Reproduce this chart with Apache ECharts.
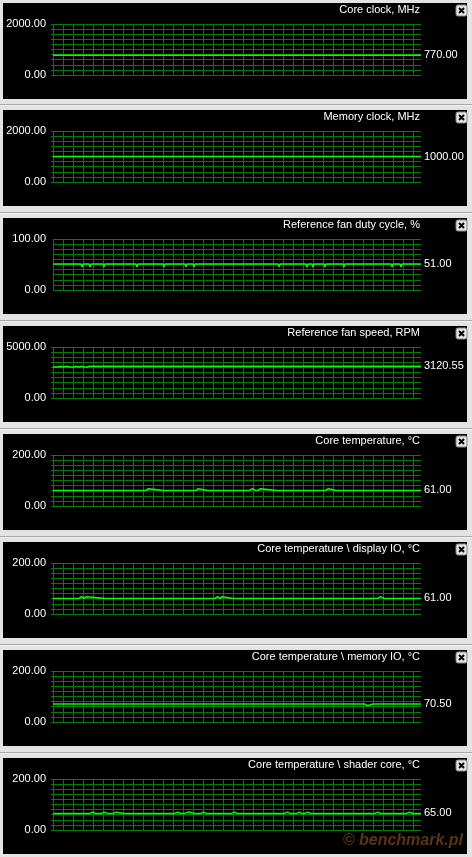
<!DOCTYPE html>
<html><head><meta charset="utf-8">
<script src="https://cdn.jsdelivr.net/npm/echarts@6/dist/echarts.min.js"></script>
<style>html,body{margin:0;padding:0;background:#e3e3e3}#c{width:472px;height:857px}</style>
</head><body><div id="c"></div>
<script>
// ---- data (x = sample index across the 368-sample window) ----
const titles = ['Core clock, MHz','Memory clock, MHz','Reference fan duty cycle, %','Reference fan speed, RPM',
  'Core temperature, °C','Core temperature \\ display IO, °C','Core temperature \\ memory IO, °C','Core temperature \\ shader core, °C'];
const yMaxima = [2000, 2000, 100, 5000, 200, 200, 200, 200];

const coreClock = [[0,770],[368,770]];
const memoryClock = [[0,1000],[368,1000]];
const fanDuty = [[0,51],[28,51],[29,45],[30,51],[36,51],[37,45],[38,51],[50,51],[51,45],[52,51],[83,51],[84,45],[85,51],
  [110,51],[111,45],[112,51],[132,51],[133,45],[134,51],[140,51],[141,45],[142,51],[225,51],[226,45],[227,51],
  [253,51],[254,45],[255,51],[259,51],[260,45],[261,51],[271,51],[272,45],[273,51],[290,51],[291,45],[292,51],
  [338,51],[339,45],[340,51],[347,51],[348,45],[349,51],[368,51]];
const fanSpeed = [[0,3040],[5,3040],[6,3110],[8,3110],[9,3040],[12,3040],[13,3110],[14,3040],[17,3040],[18,3110],
  [19,3040],[22,3110],[24,3040],[27,3040],[28,3110],[29,3040],[31,3040],[32,3110],[34,3040],[36,3040],[37,3120.55],[368,3120.55]];
const coreTemp = [[0,61],[5,61],[6,68],[7,61],[25,61],[26,68],[27,61],[45,61],[46,68],[47,61],[93,61],[94,68],[95,68],[96,61],
  [125,61],[126,68],[127,61],[139,61],[140,68],[141,61],[145,61],[146,68],[147,61],[163,61],[164,68],[165,61],
  [190,61],[191,68],[192,61],[193,61],[194,68],[195,61],[198,61],[199,68],[200,61],[205,61],[206,68],[207,68],[208,61],
  [240,61],[241,68],[242,61],[269,61],[270,68],[271,61],[274,61],[275,68],[276,61],[290,61],[291,68],[292,61],
  [319,61],[320,68],[321,61],[338,61],[339,68],[340,61],[345,61],[346,68],[347,61],[368,61]];
const displayIOTemp = [[0,61],[22,61],[23,68],[24,61],[28,61],[29,68],[30,61],[32,61],[33,68],[34,61],[72,61],[73,68],[74,61],
  [102,61],[103,68],[104,61],[138,61],[139,68],[140,61],[158,61],[159,68],[160,61],[164,61],[165,68],[166,61],
  [168,61],[169,68],[170,61],[190,61],[191,68],[192,61],[213,61],[214,68],[215,61],[238,61],[239,68],[240,61],
  [241,68],[242,61],[258,61],[259,68],[260,61],[292,61],[293,68],[294,61],[308,61],[309,68],[310,61],
  [321,61],[322,68],[323,61],[326,61],[327,68],[328,61],[331,61],[332,68],[333,61],[348,61],[349,68],[350,61],
  [355,61],[356,68],[357,61],[368,61]];
const memoryIOTemp = [[0,70.5],[5,70.5],[6,64],[7,70.5],[26,70.5],[27,64],[28,70.5],[38,70.5],[39,64],[40,70.5],
  [65,70.5],[66,64],[67,70.5],[136,70.5],[137,64],[138,70.5],[145,70.5],[146,64],[147,70.5],[222,70.5],[223,64],[224,70.5],
  [278,70.5],[279,64],[280,70.5],[308,70.5],[309,64],[310,70.5],[313,70.5],[314,64],[315,70.5],[325,70.5],[326,64],[327,70.5],[368,70.5]];
const shaderTemp = [[0,65],[1,70],[2,65],[9,65],[10,70],[11,65],[17,65],[18,70],[19,65],[34,65],[35,70],[36,65],[38,65],[39,70],[40,65],
  [45,65],[46,70],[47,65],[50,65],[51,70],[52,65],[57,65],[58,70],[59,65],[62,65],[63,70],[64,65],[78,65],[79,70],[80,65],
  [81,65],[82,70],[83,65],[88,65],[89,70],[90,65],[118,65],[119,70],[120,65],[123,65],[124,70],[125,65],[128,65],[129,70],[130,65],
  [133,65],[134,70],[135,65],[136,65],[137,70],[138,65],[141,65],[142,70],[143,65],[144,65],[145,70],[146,65],[150,65],[151,70],[152,65],
  [153,65],[154,70],[155,65],[164,65],[165,70],[166,65],[175,65],[176,70],[177,65],[180,65],[181,70],[182,65],[187,65],[188,70],[189,65],
  [199,65],[200,70],[201,65],[202,70],[203,65],[214,65],[215,70],[216,65],[225,65],[226,70],[227,65],[228,65],[229,70],[230,65],
  [233,65],[234,70],[235,65],[240,65],[241,70],[242,65],[245,65],[246,70],[247,65],[249,65],[250,70],[251,65],[253,65],[254,70],[255,65],
  [261,65],[262,70],[263,65],[274,65],[275,70],[276,65],[285,65],[286,70],[287,65],[300,65],[301,70],[302,65],[310,65],[311,70],[312,65],
  [319,65],[320,70],[321,65],[323,65],[324,70],[325,65],[331,65],[332,70],[333,65],[342,65],[343,70],[344,65],[350,65],[351,70],[352,65],
  [355,65],[356,70],[357,65],[360,65],[361,70],[362,65],[363,65],[364,70],[365,65],[368,65]];
const seriesData = [coreClock, memoryClock, fanDuty, fanSpeed, coreTemp, displayIOTemp, memoryIOTemp, shaderTemp];

// ---- layout / style ----
const panelTop = [3, 110, 218, 326, 434, 542, 650, 758];
const gridPhase = [0, 0, 7, 0, 0, 0, 0, 0];
const stepMode = [false, false, false, 'middle', 'middle', 'middle', 'middle', 'middle'];
const FONT = "'Liberation Sans', Arial, sans-serif";
const GRID_GREEN = '#008000';

const chart = echarts.init(document.getElementById('c'), null, {renderer: 'canvas'});
const grids = [], xAxes = [], yAxes = [], series = [], titleList = [], graphics = [];

panelTop.forEach((T, i) => {
  const ymax = yMaxima[i];
  const ph = gridPhase[i];
  grids.push({left: 53, right: 51, top: T + 21, height: 51});
  xAxes.push({type: 'value', gridIndex: i, min: -ph, max: 368 - ph, interval: 10,
    axisLine: {show: false}, axisTick: {show: false}, axisLabel: {show: false},
    splitLine: {show: true, showMinLine: true, showMaxLine: false, lineStyle: {color: GRID_GREEN, width: 1}}});
  yAxes.push({type: 'value', gridIndex: i, min: 0, max: ymax, interval: ymax / 10,
    axisLine: {show: false},
    axisTick: {show: true, length: 2, lineStyle: {color: GRID_GREEN}},
    axisLabel: {color: '#ffffff', fontSize: 11, fontFamily: FONT, margin: 7,
      formatter: v => (v === 0 || v === ymax) ? v.toFixed(2) : ''},
    splitLine: {show: true, lineStyle: {color: GRID_GREEN, width: 1}}});
  series.push({type: 'line', xAxisIndex: i, yAxisIndex: i, symbol: 'none', animation: false,
    step: stepMode[i],
    data: seriesData[i].map(p => [p[0] - ph, p[1]]),
    lineStyle: {color: '#00ff00', width: 1.5},
    endLabel: {show: true, color: '#ffffff', fontSize: 11, fontFamily: FONT, distance: 3,
      formatter: p => p.value[1].toFixed(2)}});
  titleList.push({text: titles[i], right: 52, top: T + 1, padding: 0,
    textStyle: {color: '#ffffff', fontSize: 11, fontWeight: 'normal', fontFamily: FONT}});
  graphics.push({type: 'rect', z: -10, shape: {x: 3, y: T, width: 464, height: 96}, style: {fill: '#000000'}});
  if (i > 0) {
    graphics.push({type: 'rect', z: -10, shape: {x: 0, y: T - 6, width: 472, height: 1}, style: {fill: '#a8a8a8'}});
    graphics.push({type: 'rect', z: -10, shape: {x: 0, y: T - 5, width: 472, height: 1}, style: {fill: '#f4f4f4'}});
  }
  graphics.push({type: 'rect', z: 10, shape: {x: 456, y: T + 2, width: 11, height: 11, r: 2},
    style: {fill: '#e4e4e4', stroke: '#8a8a8a', lineWidth: 1}});
  graphics.push({type: 'line', z: 11, shape: {x1: 459, y1: T + 5, x2: 464, y2: T + 10}, style: {stroke: '#000', lineWidth: 2}});
  graphics.push({type: 'line', z: 11, shape: {x1: 464, y1: T + 5, x2: 459, y2: T + 10}, style: {stroke: '#000', lineWidth: 2}});
});

graphics.push({type: 'text', z: 10, x: 463, y: 841,
  style: {text: '© benchmark.pl', fontSize: 16, fontWeight: 'bold', fontStyle: 'italic', fontFamily: FONT,
    fill: '#5c3413', align: 'right', verticalAlign: 'middle'}});

chart.setOption({
  backgroundColor: '#e3e3e3',
  animation: false,
  textStyle: {fontFamily: FONT},
  title: titleList,
  grid: grids,
  xAxis: xAxes,
  yAxis: yAxes,
  series: series,
  graphic: {elements: graphics}
});
</script>
</body></html>
